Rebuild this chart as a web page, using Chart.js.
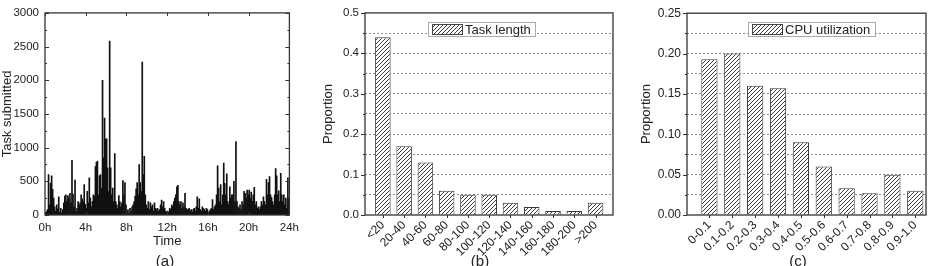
<!DOCTYPE html>
<html>
<head>
<meta charset="utf-8">
<script src="https://cdn.jsdelivr.net/npm/chart.js@4.4.1/dist/chart.umd.min.js"></script>
<style>
  body { margin: 0; background: #fff; width: 938px; height: 266px; overflow: hidden; position: relative; font-family: "Liberation Sans", Arial, sans-serif; }
  .p { position: absolute; top: 0; }
  .cap { position: absolute; top: 252px; width: 40px; text-align: center; font-size: 15px; color: #222; }
</style>
</head>
<body>
<div class="p" style="left:0"><canvas id="ca" width="305" height="266"></canvas></div>
<div class="p" style="left:320px"><canvas id="cb" width="305" height="266"></canvas></div>
<div class="p" style="left:630px"><canvas id="cc" width="308" height="266"></canvas></div>
<div class="cap" style="left:145px">(a)</div>
<div class="cap" style="left:460px">(b)</div>
<div class="cap" style="left:778px">(c)</div>
<script>
// (a) tasks submitted per 6-minute bin over 24h (10 bins per hour)
const binHours = 0.1;
const taskSubmitted = [
  30, 50, 80, 600, 150, 470, 580, 380, 250, 120,
  60, 150, 90, 270, 40, 100, 30, 80, 180, 280,
  300, 200, 290, 250, 320, 180, 810, 310, 120, 520,
  60, 100, 200, 150, 180, 300, 240, 200, 450, 160,
  100, 350, 180, 550, 250, 120, 200, 300, 280, 720,
  780, 800, 300, 580, 600, 400, 2000, 850, 1440, 1130,
  1130, 700, 350, 2580, 700, 300, 400, 200, 910, 200,
  150, 100, 290, 200, 120, 180, 510, 300, 480, 150,
  60, 80, 30, 100, 60, 120, 150, 200, 280, 390,
  480, 300, 750, 480, 350, 2270, 600, 870, 300, 150,
  100, 200, 80, 180, 120, 150, 60, 180, 100, 80,
  100, 60, 80, 150, 220, 120, 200, 100, 60, 40,
  60, 40, 100, 80, 150, 120, 200, 250, 300, 420,
  440, 200, 150, 200, 100, 180, 120, 320, 100, 80,
  80, 100, 60, 80, 40, 80, 100, 60, 120, 270,
  100, 240, 80, 60, 120, 100, 80, 60, 100, 80,
  40, 60, 80, 100, 230, 80, 120, 150, 300, 730,
  400, 200, 450, 150, 300, 770, 470, 300, 610, 200,
  150, 420, 250, 300, 300, 500, 200, 1090, 200, 120,
  100, 150, 80, 200, 150, 350, 320, 250, 370, 300,
  370, 250, 340, 200, 300, 410, 150, 200, 100, 120,
  80, 120, 200, 150, 270, 200, 150, 530, 300, 480,
  570, 300, 260, 200, 150, 300, 690, 580, 300, 360,
  200, 620, 300, 200, 300, 150, 250, 100, 550, 250
];

// (b) task length distribution
const lengthBins = ['<20', '20-40', '40-60', '60-80', '80-100', '100-120', '120-140', '140-160', '160-180', '180-200', '>200'];
const lengthShare = [0.44, 0.17, 0.13, 0.06, 0.05, 0.05, 0.03, 0.02, 0.01, 0.01, 0.03];

// (c) CPU utilization distribution
const cpuBins = ['0-0.1', '0.1-0.2', '0.2-0.3', '0.3-0.4', '0.4-0.5', '0.5-0.6', '0.6-0.7', '0.7-0.8', '0.8-0.9', '0.9-1.0'];
const cpuShare = [0.193, 0.200, 0.160, 0.157, 0.090, 0.060, 0.033, 0.027, 0.050, 0.030];

Chart.defaults.font.family = '"Liberation Sans", Arial, sans-serif';
Chart.defaults.color = '#222';

function hatch() {
  const c = document.createElement('canvas');
  c.width = 4; c.height = 4;
  const g = c.getContext('2d');
  g.fillStyle = '#fff';
  g.fillRect(0, 0, 4, 4);
  g.strokeStyle = '#3a3a3a';
  g.lineWidth = 1;
  g.beginPath();
  g.moveTo(0, 4); g.lineTo(4, 0);
  g.moveTo(-2, 2); g.lineTo(2, -2);
  g.moveTo(2, 6); g.lineTo(6, 2);
  g.stroke();
  return g.createPattern(c, 'repeat');
}

// box frame + origin style tick marks
const framePlugin = {
  id: 'frame',
  afterDraw(chart, args, o) {
    const { ctx, chartArea: a, scales: { x, y } } = chart;
    const d = o.inward ? 1 : -1;
    ctx.save();
    ctx.strokeStyle = '#333';
    ctx.lineWidth = 1;
    ctx.beginPath();
    y.ticks.forEach(t => {
      const py = Math.round(y.getPixelForValue(t.value)) + 0.5;
      const len = t.label !== '' ? 4 : 2;
      ctx.moveTo(a.left, py); ctx.lineTo(a.left + d * len, py);
      if (o.mirror) { ctx.moveTo(a.right, py); ctx.lineTo(a.right - len, py); }
    });
    x.ticks.forEach(t => {
      if (t.label === '') return;
      const px = Math.round(x.getPixelForValue(t.value)) + 0.5;
      ctx.moveTo(px, a.bottom); ctx.lineTo(px, a.bottom - d * 3);
      if (o.mirror) { ctx.moveTo(px, a.top); ctx.lineTo(px, a.top + 3); }
    });
    ctx.stroke();
    ctx.lineWidth = 1.3;
    ctx.strokeRect(a.left, a.top, a.right - a.left, a.bottom - a.top);
    ctx.restore();
  }
};

// legend drawn in a small bordered box inside the plot
const boxLegend = {
  id: 'boxLegend',
  afterDatasetsDraw(chart, args, o) {
    if (!o.w) return;
    const { ctx } = chart;
    const ds = chart.data.datasets[0];
    ctx.save();
    ctx.fillStyle = '#fff';
    ctx.fillRect(o.x, o.y, o.w, o.h);
    ctx.strokeStyle = '#aaa';
    ctx.lineWidth = 1;
    ctx.strokeRect(o.x + 0.5, o.y + 0.5, o.w, o.h);
    ctx.fillStyle = ds.backgroundColor;
    ctx.fillRect(o.x + 4, o.y + 2, 30, o.h - 3);
    ctx.strokeStyle = '#444';
    ctx.strokeRect(o.x + 4.5, o.y + 2.5, 30, o.h - 4);
    ctx.fillStyle = '#222';
    ctx.font = '13px "Liberation Sans", Arial, sans-serif';
    ctx.textBaseline = 'middle';
    ctx.fillText(ds.label, o.x + 37, o.y + o.h / 2 + 1);
    ctx.restore();
  }
};

new Chart('ca', {
  type: 'bar',
  data: {
    datasets: [{
      label: 'Task submitted',
      data: taskSubmitted.map((v, i) => ({ x: (i + 0.5) * binHours, y: v })),
      backgroundColor: '#111',
      barPercentage: 1,
      categoryPercentage: 1,
    }],
  },
  options: {
    responsive: false,
    animation: false,
    layout: { padding: { top: 10, right: 12, left: 0, bottom: 0 } },
    plugins: { legend: { display: false }, tooltip: { enabled: false }, frame: { inward: true, mirror: true } },
    scales: {
      x: {
        type: 'linear', min: 0, max: 24, offset: false,
        grid: { display: false, drawTicks: false }, border: { display: false },
        ticks: { stepSize: 4, padding: 6, maxRotation: 0, font: { size: 11.5 }, callback: v => v + 'h' },
        title: { display: true, text: 'Time', font: { size: 13 }, padding: { top: 0, bottom: 17 } },
        afterFit: s => { s.height = 51; },
      },
      y: {
        min: 0, max: 3000,
        grid: { display: false, drawTicks: false }, border: { display: false },
        ticks: { stepSize: 250, padding: 6, font: { size: 11.5 }, callback: v => (v % 500 === 0 ? v : '') },
        title: { display: true, text: 'Task submitted', font: { size: 13 }, padding: { top: 0, bottom: 0 } },
        afterFit: s => { s.width = 45; },
      },
    },
  },
  plugins: [framePlugin],
});

function distChart(id, bins, share, label, o) {
  new Chart(id, {
    type: 'bar',
    data: {
      datasets: [{
        label: label,
        data: share.map((v, i) => ({ x: i + 1, y: v })),
        backgroundColor: hatch(),
        borderColor: '#3a3a3a',
        borderWidth: 1,
        barPercentage: o.bar,
        categoryPercentage: 1,
      }],
    },
    options: {
      responsive: false,
      animation: false,
      layout: { padding: { top: 10, right: o.right, left: 0, bottom: 0 } },
      plugins: { legend: { display: false }, tooltip: { enabled: false }, frame: { inward: false }, boxLegend: o.legend },
      scales: {
        x: {
          type: 'linear', min: o.xmin, max: o.xmax, offset: false,
          grid: { display: false, drawTicks: false }, border: { display: false },
          ticks: {
            stepSize: 1, includeBounds: false, autoSkip: false, minRotation: 45, maxRotation: 45, padding: 3,
            font: { size: 12 }, callback: v => (Number.isInteger(v) && bins[v - 1]) ? bins[v - 1] : '',
          },
          afterFit: s => { s.height = 51; },
        },
        y: {
          min: 0, max: o.ymax,
          grid: {
            drawTicks: false, lineWidth: 1,
            color: c => (c.tick.value > 1e-9 && c.tick.value < o.ymax - 1e-9) ? '#8c8c8c' : 'rgba(0,0,0,0)',
          },
          border: { display: false, dash: [2, 2] },
          ticks: {
            stepSize: o.minor, padding: 6, font: { size: o.font },
            callback: v => (Math.abs(v / o.major - Math.round(v / o.major)) < 1e-6 ? v.toFixed(o.dec) : ''),
          },
          title: { display: true, text: 'Proportion', font: { size: 13 }, padding: { top: o.titlePad, bottom: 0 } },
          afterFit: s => { s.width = o.yw; },
        },
      },
    },
    plugins: [framePlugin, boxLegend],
  });
}

distChart('cb', lengthBins, lengthShare, 'Task length', {
  bar: 0.73, right: 12, xmin: 0.16, xmax: 11.82, ymax: 0.5, minor: 0.05, major: 0.1, dec: 1,
  font: 11.5, titlePad: 1, yw: 45, legend: { x: 108, y: 22, w: 107, h: 14 },
});

distChart('cc', cpuBins, cpuShare, 'CPU utilization', {
  bar: 0.71, right: 12, xmin: 0.02, xmax: 10.47, ymax: 0.25, minor: 0.025, major: 0.05, dec: 2,
  font: 12, titlePad: 9, yw: 57, legend: { x: 118, y: 22, w: 127, h: 14 },
});
</script>
</body>
</html>
